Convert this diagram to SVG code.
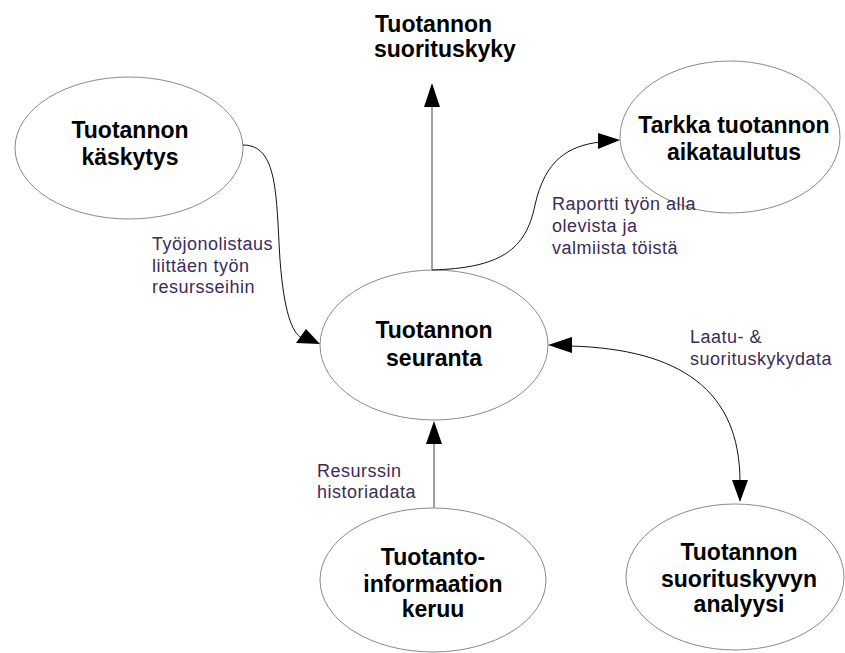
<svg xmlns="http://www.w3.org/2000/svg" width="845" height="653" viewBox="0 0 845 653">
  <style>
    .node ellipse { fill: #ffffff; stroke: #8a8a8a; stroke-width: 1; }
    .title { font-family: "Liberation Sans", Arial, sans-serif; font-weight: bold; font-size: 23px; fill: #000000; text-anchor: middle; }
    .label { font-family: "Liberation Sans", Arial, sans-serif; font-size: 18px; letter-spacing: 0.5px; fill: #3b2b5c; }
    .curve { fill: none; stroke: #111111; stroke-width: 1; }
    .straight { fill: none; stroke: #a0a0a0; stroke-width: 2; }
    .head { fill: #000000; }
  </style>

  <!-- free-standing heading above the monitoring node -->
  <g id="suorituskyky">
    <text class="title" style="text-anchor:start" x="375" y="32">Tuotannon</text>
    <text class="title" style="text-anchor:start" x="374" y="57">suorituskyky</text>
  </g>

  <g id="kaskytys" class="node">
    <ellipse cx="129" cy="148" rx="114" ry="71"/>
    <text class="title" x="130" y="138">Tuotannon</text>
    <text class="title" x="130" y="165">käskytys</text>
  </g>

  <g id="aikataulutus" class="node">
    <ellipse cx="730" cy="137" rx="110" ry="76"/>
    <text class="title" x="734" y="133">Tarkka tuotannon</text>
    <text class="title" x="734" y="160">aikataulutus</text>
  </g>

  <g id="seuranta" class="node">
    <ellipse cx="434" cy="345" rx="114" ry="75"/>
    <text class="title" x="434" y="338">Tuotannon</text>
    <text class="title" x="434" y="366">seuranta</text>
  </g>

  <g id="keruu" class="node">
    <ellipse cx="433" cy="580" rx="113" ry="72"/>
    <text class="title" x="433" y="565">Tuotanto-</text>
    <text class="title" x="433" y="592">informaation</text>
    <text class="title" x="433" y="617">keruu</text>
  </g>

  <g id="analyysi" class="node">
    <ellipse cx="735" cy="577" rx="109" ry="73"/>
    <text class="title" x="739" y="560">Tuotannon</text>
    <text class="title" x="739" y="587">suorituskyvyn</text>
    <text class="title" x="739" y="612">analyysi</text>
  </g>

  <g id="connectors">
    <!-- seuranta -> suorituskyky -->
    <line class="straight" x1="432" y1="270" x2="432" y2="104"/>
    <polygon class="head" points="432,83 424,107 440,107"/>

    <!-- keruu -> seuranta -->
    <line class="straight" x1="434" y1="508" x2="434" y2="440"/>
    <polygon class="head" points="434,421 426,444 442,444"/>

    <!-- kaskytys -> seuranta -->
    <path class="curve" d="M243,145 C278,145 276,195 280,260 C284,312 292,333 302,338"/>
    <polygon class="head" points="320,344 296,343 306,329"/>

    <!-- seuranta -> aikataulutus -->
    <path class="curve" d="M432,270 C500,268 526,250 535,205 C545,160 568,146 600,142"/>
    <polygon class="head" points="620,140 598,133 598,149"/>

    <!-- seuranta <-> analyysi -->
    <path class="curve" d="M570,346 C680,349 740,390 740,482"/>
    <polygon class="head" points="548,345 572,337 572,353"/>
    <polygon class="head" points="740,502 732,480 748,480"/>

    <text class="label" x="152" y="250">Työjonolistaus</text>
    <text class="label" x="152" y="272">liittäen työn</text>
    <text class="label" x="152" y="293">resursseihin</text>

    <text class="label" x="552" y="210">Raportti työn alla</text>
    <text class="label" x="552" y="232">olevista ja</text>
    <text class="label" x="552" y="254">valmiista töistä</text>

    <text class="label" x="690" y="343">Laatu- &amp;</text>
    <text class="label" x="690" y="365">suorituskykydata</text>

    <text class="label" x="317" y="477">Resurssin</text>
    <text class="label" x="317" y="498">historiadata</text>
  </g>
</svg>
